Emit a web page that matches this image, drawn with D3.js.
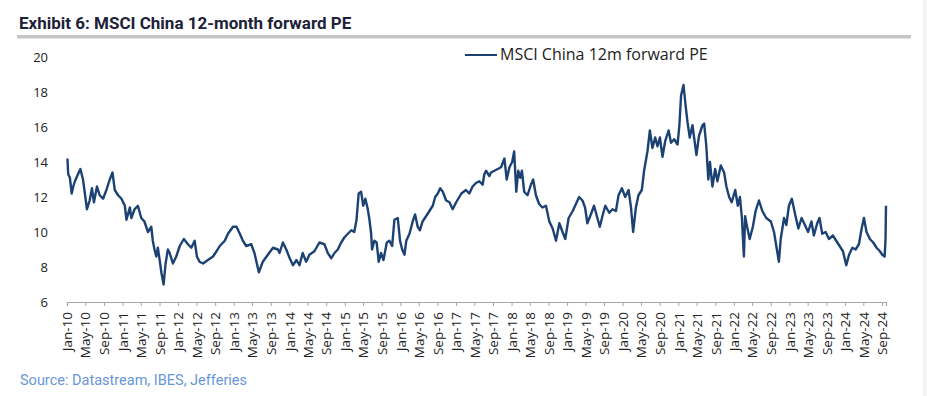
<!DOCTYPE html>
<html>
<head>
<meta charset="utf-8">
<script src="https://cdn.jsdelivr.net/npm/d3@7"></script>
<style>
  body { margin: 0; background: #fff; }
  svg { display: block; }
</style>
</head>
<body>
<script>
// MSCI China 12m forward PE
var dates = [
  "2010-01-04","2010-01-09","2010-01-20","2010-02-01","2010-02-11","2010-02-22","2010-03-14","2010-03-30",
  "2010-04-16","2010-04-27","2010-05-12","2010-05-30","2010-06-14","2010-06-27","2010-07-17","2010-08-04",
  "2010-08-26","2010-09-17","2010-10-09","2010-10-27","2010-11-11","2010-12-03","2010-12-25",
  "2011-01-16","2011-01-27","2011-02-18","2011-02-28","2011-03-21","2011-04-12","2011-05-04","2011-05-25",
  "2011-06-17","2011-07-09","2011-07-19","2011-07-30","2011-08-11","2011-08-21","2011-09-02","2011-09-13",
  "2011-09-28","2011-10-11","2011-10-26","2011-11-07","2011-11-28","2011-12-20",
  "2012-01-12","2012-02-08","2012-03-06","2012-03-28","2012-04-19","2012-05-04","2012-05-21","2012-06-13",
  "2012-07-15","2012-08-18","2012-09-10","2012-10-01","2012-11-03","2012-11-24","2012-12-27",
  "2013-01-19","2013-02-10","2013-03-02","2013-03-24","2013-04-26","2013-05-17","2013-06-15","2013-07-11",
  "2013-08-13","2013-09-16","2013-10-18","2013-10-29","2013-11-20","2013-12-12",
  "2014-01-04","2014-01-25","2014-02-17","2014-03-09","2014-03-30","2014-04-22","2014-05-13","2014-06-15",
  "2014-07-18","2014-08-20","2014-09-11","2014-10-04","2014-10-25","2014-11-16","2014-12-08","2014-12-30",
  "2015-01-21","2015-02-13","2015-03-04","2015-03-19","2015-04-02","2015-04-18","2015-05-02","2015-05-16",
  "2015-06-01","2015-06-12","2015-06-23","2015-06-29","2015-07-14","2015-07-29","2015-08-12","2015-08-27",
  "2015-09-12","2015-10-04","2015-10-21","2015-11-08","2015-11-23","2015-12-15","2015-12-30",
  "2016-01-13","2016-01-28","2016-02-09","2016-03-01","2016-03-22","2016-04-07","2016-04-24","2016-05-09",
  "2016-05-26","2016-06-18","2016-07-10","2016-08-01","2016-08-17","2016-09-03","2016-09-19","2016-10-06",
  "2016-10-28","2016-11-19","2016-12-10",
  "2017-01-02","2017-02-05","2017-03-07","2017-03-29","2017-04-20","2017-05-12","2017-06-03","2017-06-25",
  "2017-07-06","2017-07-17","2017-08-08","2017-08-19","2017-09-10","2017-10-02","2017-10-24","2017-11-15",
  "2017-11-30","2017-12-18",
  "2018-01-05","2018-01-18","2018-02-01","2018-02-14","2018-02-27","2018-03-10","2018-03-25","2018-04-16",
  "2018-05-08","2018-05-23","2018-06-10","2018-07-01","2018-07-23","2018-08-15","2018-09-06","2018-09-28",
  "2018-10-20","2018-11-11","2018-12-02","2018-12-20",
  "2019-01-11","2019-02-07","2019-02-28","2019-03-21","2019-04-12","2019-04-29","2019-05-14","2019-06-06",
  "2019-06-27","2019-07-19","2019-08-04","2019-08-21","2019-09-09","2019-10-05","2019-10-26","2019-11-18",
  "2019-12-05","2019-12-27",
  "2020-01-18","2020-02-09","2020-02-25","2020-03-10","2020-03-28","2020-04-14","2020-05-06","2020-05-21",
  "2020-06-02","2020-06-12","2020-06-28","2020-07-15","2020-08-02","2020-08-17","2020-09-02","2020-09-19",
  "2020-10-07","2020-10-29","2020-11-14","2020-12-05","2020-12-27",
  "2021-01-08","2021-01-19","2021-02-04","2021-02-17","2021-03-02","2021-03-17","2021-04-04","2021-04-30",
  "2021-05-17","2021-06-09","2021-06-20","2021-07-04","2021-07-17","2021-07-28","2021-08-13","2021-08-31",
  "2021-09-15","2021-10-07","2021-10-29","2021-11-13","2021-12-01","2021-12-18",
  "2022-01-10","2022-01-27","2022-02-10","2022-02-23","2022-03-08","2022-03-16","2022-03-29","2022-04-15",
  "2022-05-06","2022-05-24","2022-06-15","2022-07-07","2022-08-02","2022-09-01","2022-09-22","2022-10-07",
  "2022-10-24","2022-11-05","2022-11-27","2022-12-12","2022-12-29",
  "2023-01-17","2023-02-08","2023-03-01","2023-03-22","2023-04-13","2023-05-04","2023-05-26","2023-06-11",
  "2023-07-03","2023-07-18","2023-08-05","2023-08-27","2023-09-18","2023-10-14","2023-11-05","2023-11-27",
  "2023-12-19",
  "2024-01-10","2024-01-28","2024-02-19","2024-03-11","2024-04-02","2024-04-20","2024-05-05","2024-05-22",
  "2024-06-13","2024-07-05","2024-07-27","2024-08-18","2024-09-03","2024-09-18","2024-09-24","2024-09-27"
];

var pe = [
  14.2,13.3,13.1,12.2,12.6,12.9,13.3,13.6,
  13.0,12.3,11.3,11.8,12.5,11.7,12.6,12.1,
  11.9,12.4,13.0,13.4,12.4,12.1,11.9,
  11.5,10.7,11.4,10.8,11.3,11.5,10.8,10.6,
  10.0,10.3,9.5,9.0,8.6,9.1,8.4,7.7,
  7.0,8.2,9.0,8.8,8.2,8.6,
  9.2,9.6,9.3,9.1,9.5,8.6,8.3,8.2,
  8.4,8.6,8.9,9.2,9.5,9.9,10.3,
  10.3,9.9,9.5,9.2,9.3,8.8,7.7,8.3,
  8.7,9.1,9.0,8.8,9.4,9.0,
  8.5,8.1,8.4,8.1,8.8,8.3,8.7,8.9,
  9.4,9.3,8.8,8.5,8.8,9.0,9.4,9.7,
  9.9,10.1,10.0,10.7,12.2,12.3,11.5,11.9,
  11.3,10.7,9.9,9.0,9.5,9.4,8.3,8.8,
  8.4,9.4,9.5,9.2,10.7,10.8,9.5,
  9.0,8.7,9.5,9.9,10.6,11.0,10.3,10.1,
  10.6,10.9,11.2,11.5,12.0,12.2,12.5,12.3,
  11.8,11.7,11.3,
  11.7,12.2,12.4,12.2,12.6,12.8,12.9,12.7,
  13.3,13.5,13.2,13.4,13.5,13.6,13.7,14.2,
  13.0,13.7,
  14.0,14.6,12.3,13.5,13.1,13.5,12.3,12.1,
  12.7,13.0,12.1,11.6,11.4,11.5,10.6,10.2,
  9.5,10.5,10.0,9.6,
  10.8,11.2,11.6,12.0,11.8,11.4,10.5,11.0,
  11.5,10.8,10.3,10.9,11.5,11.1,11.3,11.2,
  12.1,12.5,
  12.0,12.4,11.4,10.0,11.4,12.1,12.4,13.5,
  14.1,14.6,15.8,14.8,15.4,14.9,15.4,14.3,
  15.2,15.8,15.1,15.3,15.0,
  16.1,17.8,18.4,17.3,16.3,15.4,16.1,14.4,
  15.5,16.1,16.2,14.9,13.0,14.0,12.6,13.6,
  12.9,13.8,13.4,12.6,12.0,11.7,
  12.4,11.5,12.0,10.8,8.6,10.9,10.3,9.6,
  10.3,11.2,11.8,11.2,10.8,10.6,10.0,9.2,
  8.3,9.6,10.8,10.4,11.5,
  11.9,11.0,10.2,10.8,10.4,10.0,10.6,9.8,
  10.5,10.8,9.9,10.0,9.6,9.8,9.5,9.2,
  8.9,
  8.1,8.7,9.1,9.0,9.3,10.2,10.8,10.0,
  9.6,9.4,9.1,8.9,8.7,8.6,9.6,11.5
];

var yTicks = [6, 8, 10, 12, 14, 16, 18, 20];
var seriesName = "MSCI China 12m forward PE";
var titleText = "Exhibit 6: MSCI China 12-month forward PE";
var sourceText = "Source: Datastream, IBES, Jefferies";

var parse = d3.timeParse("%Y-%m-%d");
var data = dates.map(function (d, i) { return { date: parse(d), value: pe[i] }; });

var W = 927, H = 396;
var svg = d3.select("body").append("svg")
  .attr("width", W)
  .attr("height", H);

// right edge strip
svg.append("rect")
  .attr("x", 923).attr("y", 0)
  .attr("width", 4).attr("height", H)
  .attr("fill", "#f4f4f4");

// title + rule
svg.append("text")
  .attr("x", 19).attr("y", 29)
  .attr("font-family", "Roboto, sans-serif")
  .attr("font-weight", "bold")
  .attr("font-size", "17px")
  .attr("fill", "#1d2238")
  .text(titleText);

svg.append("rect")
  .attr("x", 17).attr("y", 35)
  .attr("width", 894).attr("height", 3.5)
  .attr("fill", "#c6c6c6");

var x = d3.scaleTime()
  .domain([new Date(2010, 0, 1), d3.max(data, function (d) { return d.date; })])
  .range([67, 886]);

var y = d3.scaleLinear()
  .domain([6, 20])
  .range([302, 57]);

// y labels (no axis line)
var yAxis = svg.append("g")
  .attr("transform", "translate(48,0)")
  .call(d3.axisLeft(y).tickValues(yTicks).tickSize(0).tickPadding(0));
yAxis.select(".domain").remove();
yAxis.selectAll("text")
  .attr("font-family", "'Open Sans', sans-serif")
  .attr("font-size", "13px")
  .attr("fill", "#222");

// x axis, a tick every 4 months
var xTicks = d3.timeMonth.every(4).range(new Date(2010, 0, 1), new Date(2024, 9, 1));
var xAxis = svg.append("g")
  .attr("transform", "translate(0,302)")
  .call(d3.axisBottom(x).tickValues(xTicks).tickFormat(d3.timeFormat("%b-%y")).tickSizeOuter(0).tickSize(4).tickPadding(7));
xAxis.select(".domain").attr("stroke", "#a6a6a6").attr("stroke-width", 1.2);
xAxis.selectAll(".tick line").attr("stroke", "#a6a6a6");
xAxis.selectAll("text")
  .attr("font-family", "'Open Sans', sans-serif")
  .attr("font-size", "13.5px")
  .attr("fill", "#222")
  .attr("transform", "rotate(-90)")
  .attr("text-anchor", "end")
  .attr("x", -10)
  .attr("y", 0)
  .attr("dy", "0.35em");

// series line
var line = d3.line()
  .x(function (d) { return x(d.date); })
  .y(function (d) { return y(d.value); });

svg.append("path")
  .datum(data)
  .attr("d", line)
  .attr("fill", "none")
  .attr("stroke", "#1b4273")
  .attr("stroke-width", 2.4)
  .attr("stroke-linejoin", "round");

// legend
svg.append("line")
  .attr("x1", 465).attr("x2", 497)
  .attr("y1", 55).attr("y2", 55)
  .attr("stroke", "#1b4273")
  .attr("stroke-width", 2);

svg.append("text")
  .attr("x", 500).attr("y", 60)
  .attr("font-family", "'Open Sans', sans-serif")
  .attr("font-size", "16px")
  .attr("fill", "#222")
  .text(seriesName);

// source
svg.append("text")
  .attr("x", 20).attr("y", 385)
  .attr("font-family", "Roboto, sans-serif")
  .attr("font-size", "14.5px")
  .attr("fill", "#6896d6")
  .text(sourceText);
</script>
</body>
</html>
